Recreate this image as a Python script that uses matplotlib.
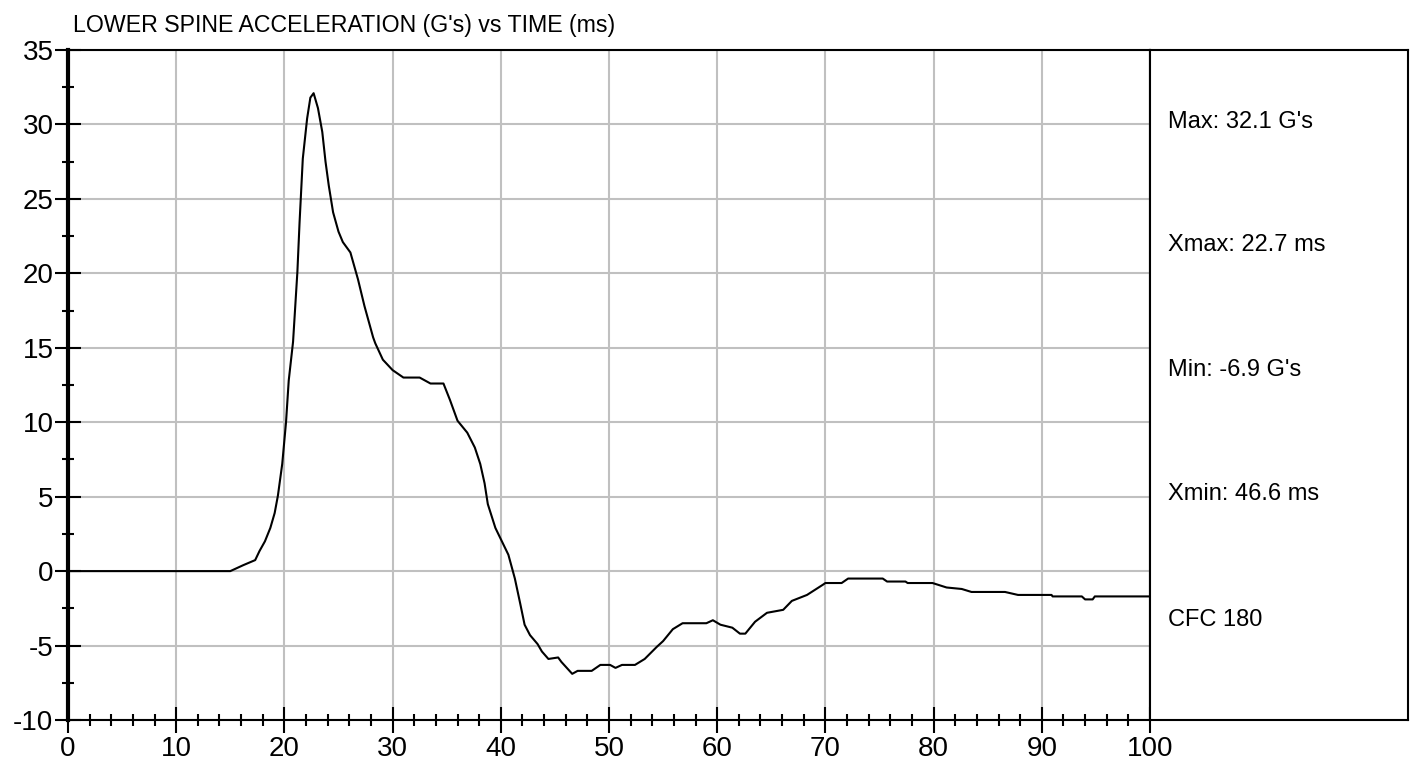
import numpy as np
import matplotlib.pyplot as plt
from matplotlib.ticker import MultipleLocator

# lower spine acceleration trace (ms, G's)
time_ms = [0, 15.0, 15.3, 16.2, 17.3, 17.7, 18.2, 18.7, 19.1, 19.4, 19.8, 20.15, 20.4,
           20.8, 21.2, 21.4, 21.7, 22.1, 22.4, 22.7, 23.1, 23.5, 23.8, 24.1, 24.5,
           25.0, 25.4, 26.1, 26.8, 27.4, 28.2, 28.4, 29.1, 30.0, 31.0, 32.5, 33.5,
           34.7, 35.3, 36.0, 36.9, 37.6, 38.1, 38.5, 38.8, 39.5, 40.1, 40.7, 41.3,
           41.8, 42.2, 42.7, 43.4, 43.8, 44.4, 45.3, 45.6, 46.6, 47.1, 48.4, 49.2,
           50.1, 50.6, 51.2, 52.4, 53.3, 54.4, 55.0, 55.9, 56.8, 59.0, 59.6, 60.3,
           61.4, 62.1, 62.6, 63.5, 64.6, 66.1, 66.9, 68.3, 69.8, 70.0, 71.5, 72.1,
           75.3, 75.7, 77.4, 77.6, 79.9, 81.2, 82.6, 83.5, 86.6, 87.8, 90.9, 91.0,
           93.7, 94.0, 94.7, 94.9, 100]
accel_g = [0, 0, 0.1, 0.4, 0.74, 1.35, 2.0, 2.9, 3.9, 5.07, 7.2, 10.0, 12.8,
           15.4, 20.1, 23.4, 27.7, 30.4, 31.8, 32.1, 31.1, 29.5, 27.5, 25.9, 24.1,
           22.8, 22.1, 21.4, 19.6, 17.8, 15.7, 15.3, 14.2, 13.5, 13.0, 13.0, 12.6,
           12.6, 11.5, 10.1, 9.3, 8.3, 7.2, 5.9, 4.5, 2.9, 2.0, 1.1, -0.5,
           -2.2, -3.6, -4.3, -4.9, -5.4, -5.9, -5.8, -6.1, -6.9, -6.7, -6.7, -6.3,
           -6.3, -6.5, -6.3, -6.3, -5.9, -5.1, -4.7, -3.9, -3.5, -3.5, -3.3, -3.6,
           -3.8, -4.2, -4.2, -3.4, -2.8, -2.6, -2.0, -1.6, -0.9, -0.8, -0.8, -0.5,
           -0.5, -0.7, -0.7, -0.8, -0.8, -1.1, -1.2, -1.4, -1.4, -1.6, -1.6, -1.7,
           -1.7, -1.9, -1.9, -1.7, -1.7]

stats = ["Max: 32.1 G's", "Xmax: 22.7 ms", "Min: -6.9 G's", "Xmin: 46.6 ms", "CFC 180"]
title = "LOWER SPINE ACCELERATION (G's) vs TIME (ms)"

narrow = ['Liberation Sans Narrow', 'Liberation Sans', 'DejaVu Sans']
plt.rcParams['font.family'] = ['Liberation Sans', 'DejaVu Sans']
plt.rcParams['axes.unicode_minus'] = False

fig = plt.figure(figsize=(14.15, 7.67), dpi=100)
ax = fig.add_axes([68 / 1415, 1 - 720 / 767, (1150 - 68) / 1415, 670 / 767])

ax.plot(time_ms, accel_g, color='black', lw=1.5)
ax.set_xlim(0, 100)
ax.set_ylim(-10, 35)

ax.xaxis.set_major_locator(MultipleLocator(10))
ax.xaxis.set_minor_locator(MultipleLocator(2))
ax.yaxis.set_major_locator(MultipleLocator(5))
ax.yaxis.set_minor_locator(MultipleLocator(2.5))
ax.grid(True, which='major', color='#c0c0c0', lw=1.5)
ax.set_axisbelow(True)

ax.tick_params(which='major', direction='inout', length=19, width=1.5, labelsize=20,
               colors='black')
ax.tick_params(axis='x', which='major', pad=2)
ax.tick_params(axis='y', which='major', pad=1)
ax.tick_params(which='minor', direction='inout', length=9, width=1.5)
ax.tick_params(top=False, right=False)

ax.spines['left'].set_linewidth(3)
for s in ['bottom', 'top', 'right']:
    ax.spines[s].set_linewidth(1.5)

ax.text(0.005, 1.036, title, transform=ax.transAxes, family=narrow, fontsize=16.7,
        va='center', ha='left')

# stats panel on the right
panel = fig.add_axes([1150 / 1415, 1 - 720 / 767, (1408 - 1150) / 1415, 670 / 767])
panel.set_xticks([])
panel.set_yticks([])
for s in panel.spines.values():
    s.set_linewidth(1.5)
ypos = [122, 245, 370, 494, 620]
for txt, yp in zip(stats, ypos):
    panel.text(18 / 258, (720 - yp) / 670, txt, transform=panel.transAxes,
               family=narrow, fontsize=17, va='center', ha='left')

fig.savefig('out.png', dpi=100)
